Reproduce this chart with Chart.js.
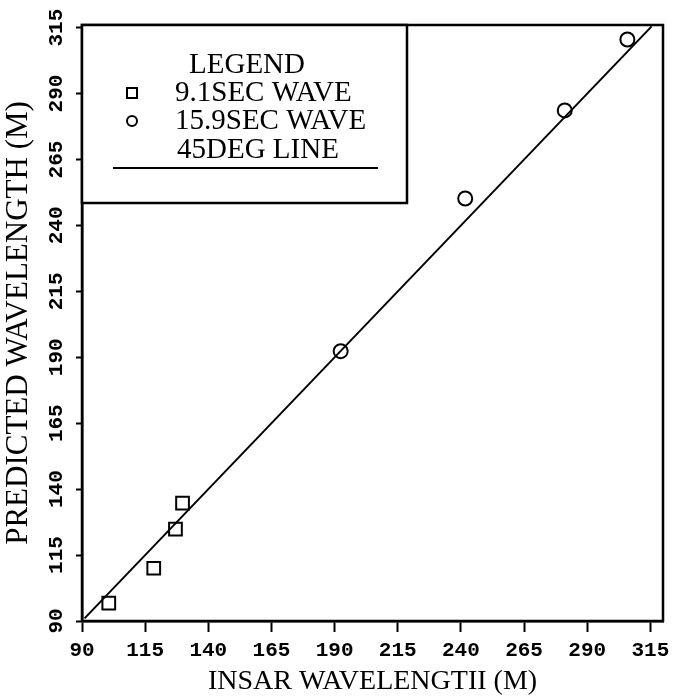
<!DOCTYPE html>
<html>
<head>
<meta charset="utf-8">
<script src="https://cdn.jsdelivr.net/npm/chart.js@4"></script>
<style>
  html, body { margin: 0; padding: 0; background: #fff; }
  #myChart { display: block; }
</style>
</head>
<body>
<canvas id="myChart" width="674" height="700"></canvas>
<script>
// values
const tickValues = [90, 115, 140, 165, 190, 215, 240, 265, 290, 315];
const wave91X = [100.6, 118.4, 127, 129.8];
const wave91Y = [96.8, 110, 124.8, 134.7];
const wave159X = [192.4, 241.7, 281.1, 305.9];
const wave159Y = [192.3, 250.2, 283.6, 310.5];
const lineX = [91, 315.5];
const lineY = [91, 315.5];
const legendLabels = ['LEGEND', '9.1SEC WAVE', '15.9SEC WAVE', '45DEG LINE'];

const toPoints = (xs, ys) => xs.map((x, i) => ({ x: x, y: ys[i] }));

const serif = '"Liberation Serif", "DejaVu Serif", serif';
const tickFont = { family: '"Liberation Mono", monospace', weight: 'bold', size: 21 };

// box around the whole plot area
const frame = {
    id: 'frame',
    afterDraw(chart) {
        const { ctx, chartArea: a } = chart;
        ctx.save();
        ctx.strokeStyle = '#000';
        ctx.lineWidth = 2.5;
        ctx.strokeRect(a.left, a.top, a.right - a.left, a.bottom - a.top);
        ctx.restore();
    }
};

// the boxed legend in the upper left corner
const legendBox = {
    id: 'legendBox',
    afterDraw(chart) {
        const { ctx, chartArea: a } = chart;
        const l = a.left, t = a.top;
        ctx.save();
        ctx.fillStyle = '#fff';
        ctx.fillRect(l, t, 325, 178);
        ctx.strokeStyle = '#000';
        ctx.lineWidth = 2.5;
        ctx.strokeRect(l, t, 325, 178);

        ctx.fillStyle = '#000';
        ctx.font = '29px ' + serif;
        ctx.textBaseline = 'middle';
        ctx.textAlign = 'center';
        ctx.fillText(legendLabels[0], l + 165, t + 40);
        ctx.textAlign = 'left';
        ctx.fillText(legendLabels[1], l + 93, t + 68);
        ctx.fillText(legendLabels[2], l + 93, t + 96);
        ctx.fillText(legendLabels[3], l + 95, t + 125);

        ctx.lineWidth = 2;
        ctx.strokeRect(l + 45, t + 63, 10, 10);
        ctx.beginPath();
        ctx.arc(l + 50, t + 96, 5, 0, Math.PI * 2);
        ctx.stroke();
        ctx.beginPath();
        ctx.moveTo(l + 31, t + 143);
        ctx.lineTo(l + 296, t + 143);
        ctx.stroke();
        ctx.restore();
    }
};

const myChart = document.getElementById('myChart');
const canvasContext = myChart.getContext('2d');

new Chart(canvasContext, {
    type: 'scatter',
    data: {
        datasets: [
            {
                label: legendLabels[3],
                type: 'line',
                data: toPoints(lineX, lineY),
                borderColor: '#000',
                borderWidth: 2,
                pointRadius: 0,
                fill: false,
            },
            {
                label: legendLabels[1],
                data: toPoints(wave91X, wave91Y),
                pointStyle: 'rect',
                pointRadius: 9,
                borderColor: '#000',
                borderWidth: 2,
                backgroundColor: 'rgba(0,0,0,0)',
            },
            {
                label: legendLabels[2],
                data: toPoints(wave159X, wave159Y),
                pointStyle: 'circle',
                pointRadius: 7,
                borderColor: '#000',
                borderWidth: 2,
                backgroundColor: 'rgba(0,0,0,0)',
            }
        ]
    },
    options: {
        responsive: false,
        animation: false,
        layout: { padding: { top: 25, right: 8, left: 0, bottom: 0 } },
        plugins: {
            legend: { display: false },
            tooltip: { enabled: false },
        },
        scales: {
            x: {
                type: 'linear',
                min: 90,
                max: 320,
                afterBuildTicks: (s) => { s.ticks = tickValues.map(v => ({ value: v })); },
                afterFit: (s) => { s.height = 79; s.paddingLeft = 0; s.paddingRight = 0; },
                grid: { drawOnChartArea: false, tickLength: 11, tickColor: '#000', tickWidth: 2 },
                border: { color: '#000', width: 2.5 },
                ticks: { color: '#000', font: tickFont, padding: 6, maxRotation: 0 },
                title: {
                    display: true,
                    text: 'INSAR WAVELENGTII (M)',
                    color: '#000',
                    font: { family: serif, size: 28 },
                    padding: { top: 0, bottom: 2 },
                },
            },
            y: {
                type: 'linear',
                min: 90,
                max: 316,
                afterBuildTicks: (s) => { s.ticks = tickValues.map(v => ({ value: v })); },
                afterFit: (s) => { s.width = 82; s.paddingTop = 0; s.paddingBottom = 0; },
                grid: { drawOnChartArea: false, tickLength: 6, tickColor: '#000', tickWidth: 2 },
                border: { color: '#000', width: 2.5 },
                ticks: { color: '#000', font: tickFont, padding: 0, minRotation: 90, maxRotation: 90, crossAlign: 'center' },
                title: {
                    display: true,
                    text: 'PREDICTED WAVELENGTH (M)',
                    color: '#000',
                    font: { family: serif, size: 31 },
                    padding: { top: 0, bottom: 0 },
                },
            }
        }
    },
    plugins: [frame, legendBox],
});
</script>
</body>
</html>
